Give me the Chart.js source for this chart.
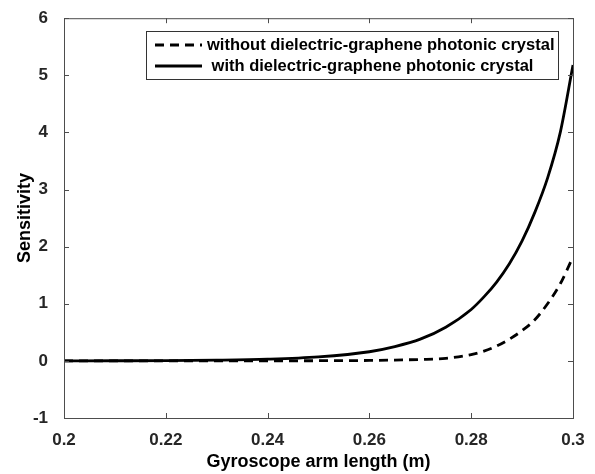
<!DOCTYPE html>
<html>
<head>
<meta charset="utf-8">
<script src="https://cdn.jsdelivr.net/npm/chart.js@4.4.1/dist/chart.umd.min.js"></script>
<style>
  html, body { margin: 0; padding: 0; background: #fff; }
  #wrap { width: 595px; height: 474px; }
</style>
</head>
<body>
<div id="wrap"><canvas id="chart" width="595" height="474"></canvas></div>
<script>
// Arm length (m)
const armLength = [0.20, 0.21, 0.22, 0.23, 0.24, 0.25, 0.26, 0.265, 0.27, 0.275,
  0.28, 0.2825, 0.285, 0.2875, 0.29, 0.2925, 0.295, 0.2975, 0.30];

// Sensitivity without the photonic crystal (dashed)
const withoutCrystal = [0, 0, 0, 0, 0.001, 0.003, 0.008, 0.015, 0.025, 0.045,
  0.11, 0.17, 0.26, 0.38, 0.53, 0.72, 1.0, 1.35, 1.82];

// Sensitivity with the photonic crystal (solid)
const withCrystal = [0, 0.002, 0.005, 0.013, 0.03, 0.07, 0.16, 0.25, 0.38, 0.59,
  0.9, 1.12, 1.38, 1.7, 2.1, 2.6, 3.2, 4.0, 5.18];

const xTicks = [0.2, 0.22, 0.24, 0.26, 0.28, 0.3];
const yTicks = [-1, 0, 1, 2, 3, 4, 5, 6];

const seriesNames = [
  "without dielectric-graphene photonic crystal",
  " with dielectric-graphene photonic crystal",
];

const FONT = "'Liberation Sans', Arial, Helvetica, sans-serif";

function toPoints(ys) {
  return armLength.map((x, i) => ({ x: x, y: ys[i] }));
}

// Box frame, inward ticks and the legend, MATLAB style
const framePlugin = {
  id: "frame",
  afterDraw(chart) {
    const ctx = chart.ctx;
    const a = chart.chartArea;
    const xs = chart.scales.x;
    const ys = chart.scales.y;
    ctx.save();
    ctx.strokeStyle = "#4d4d4d";
    ctx.lineWidth = 1;
    ctx.strokeRect(a.left + 0.5, a.top + 0.5, a.right - a.left, a.bottom - a.top);

    const len = 5;
    ctx.beginPath();
    xTicks.forEach((v) => {
      const px = Math.round(xs.getPixelForValue(v)) + 0.5;
      ctx.moveTo(px, a.bottom);
      ctx.lineTo(px, a.bottom - len);
      ctx.moveTo(px, a.top);
      ctx.lineTo(px, a.top + len);
    });
    yTicks.forEach((v) => {
      const py = Math.round(ys.getPixelForValue(v)) + 0.5;
      ctx.moveTo(a.left, py);
      ctx.lineTo(a.left + len, py);
      ctx.moveTo(a.right, py);
      ctx.lineTo(a.right - len, py);
    });
    ctx.stroke();

    // Legend box
    const bx = 146, by = 31, bw = 412, bh = 48;
    ctx.fillStyle = "#fff";
    ctx.fillRect(bx, by, bw, bh);
    ctx.strokeStyle = "#333";
    ctx.strokeRect(bx + 0.5, by + 0.5, bw, bh);

    const rows = [45, 66];
    chart.data.datasets.forEach((ds, i) => {
      ctx.beginPath();
      ctx.strokeStyle = "#000";
      ctx.lineWidth = ds.borderWidth;
      ctx.setLineDash(ds.borderDash || []);
      ctx.moveTo(bx + 9, rows[i]);
      ctx.lineTo(bx + 56, rows[i]);
      ctx.stroke();
      ctx.setLineDash([]);
      ctx.fillStyle = "#000";
      ctx.font = "bold 16.5px " + FONT;
      ctx.textBaseline = "middle";
      ctx.textAlign = "left";
      ctx.fillText(ds.label, bx + 61, rows[i]);
    });
    ctx.restore();
  },
};

new Chart(document.getElementById("chart"), {
  type: "line",
  data: {
    datasets: [
      {
        label: seriesNames[0],
        data: toPoints(withoutCrystal),
        borderColor: "#000",
        borderWidth: 2.8,
        borderDash: [9, 6],
        pointRadius: 0,
        cubicInterpolationMode: "monotone",
        fill: false,
      },
      {
        label: seriesNames[1],
        data: toPoints(withCrystal),
        borderColor: "#000",
        borderWidth: 2.8,
        pointRadius: 0,
        cubicInterpolationMode: "monotone",
        fill: false,
      },
    ],
  },
  options: {
    responsive: false,
    animation: false,
    layout: { padding: { left: 0, right: 22, top: 15, bottom: 0 } },
    plugins: {
      legend: { display: false },
      tooltip: { enabled: false },
    },
    scales: {
      x: {
        type: "linear",
        min: 0.2,
        max: 0.3,
        afterBuildTicks(scale) {
          scale.ticks = xTicks.map((v) => ({ value: v }));
        },
        afterFit(scale) {
          scale.height = 56;
        },
        grid: { display: false },
        border: { display: false },
        ticks: {
          padding: 4,
          color: "#262626",
          font: { family: FONT, size: 17, weight: "bold" },
          maxRotation: 0,
          callback: (v) => String(parseFloat(v.toFixed(2))),
        },
        title: {
          display: true,
          text: "Gyroscope arm length (m)",
          color: "#000",
          padding: { top: 0, bottom: 1 },
          font: { family: FONT, size: 18, weight: "bold" },
        },
      },
      y: {
        type: "linear",
        min: -1,
        max: 6,
        afterBuildTicks(scale) {
          scale.ticks = yTicks.map((v) => ({ value: v }));
        },
        afterFit(scale) {
          scale.width = 64;
        },
        grid: { display: false },
        border: { display: false },
        ticks: {
          padding: 8,
          color: "#262626",
          font: { family: FONT, size: 17, weight: "bold" },
        },
        title: {
          display: true,
          text: "Sensitivity",
          color: "#000",
          padding: { top: 14, bottom: 0 },
          font: { family: FONT, size: 18, weight: "bold" },
        },
      },
    },
  },
  plugins: [framePlugin],
});
</script>
</body>
</html>
